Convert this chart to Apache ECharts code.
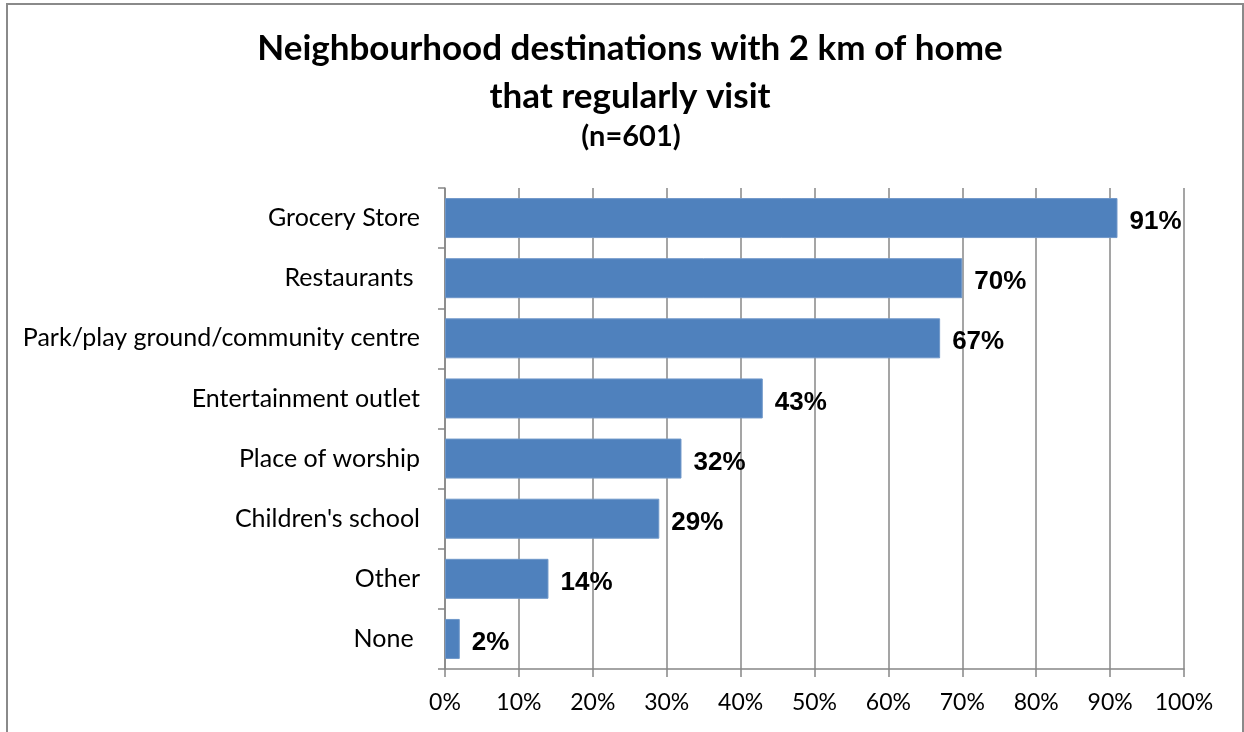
<!DOCTYPE html>
<html>
<head>
<meta charset="utf-8">
<script src="https://cdn.jsdelivr.net/npm/echarts@6/dist/echarts.min.js"></script>
<style>
  html, body { margin: 0; padding: 0; background: #fff; }
  #chart { width: 1244px; height: 732px; }
</style>
</head>
<body>
<div id="chart"></div>
<script>
// Destinations within 2 km of home that respondents visit regularly (n=601)
const categories = [
  'Grocery Store',
  'Restaurants ',
  'Park/play ground/community centre',
  'Entertainment outlet',
  'Place of worship',
  "Children's school",
  'Other',
  'None '
];
const shares = [91, 70, 67, 43, 32, 29, 14, 2];
const xTicks = [0, 10, 20, 30, 40, 50, 60, 70, 80, 90, 100];

const labelFont = 'Lato, "Open Sans", sans-serif';
const gridGray = '#878787';

const chart = echarts.init(document.getElementById('chart'));
chart.setOption({
  backgroundColor: '#ffffff',
  animation: false,
  title: [
    {
      text: 'Neighbourhood destinations with 2 km of home\nthat regularly visit',
      left: 625,
      top: 20,
      textAlign: 'center',
      textStyle: {
        fontFamily: labelFont,
        fontWeight: 'bold',
        fontSize: 35,
        lineHeight: 48,
        color: '#000'
      }
    },
    {
      text: '(n=601)',
      left: 626,
      top: 117,
      textAlign: 'center',
      textStyle: {
        fontFamily: labelFont,
        fontWeight: 'bold',
        fontSize: 29,
        color: '#000'
      }
    }
  ],
  graphic: [
    {
      type: 'rect',
      shape: { x: 7, y: 4, width: 1236, height: 760 },
      style: { fill: 'none', stroke: '#8a8a8a', lineWidth: 2 },
      silent: true
    }
  ],
  grid: { left: 445, right: 60, top: 188, bottom: 63 },
  xAxis: {
    type: 'value',
    min: xTicks[0],
    max: xTicks[xTicks.length - 1],
    interval: 10,
    axisLine: { show: true, lineStyle: { color: gridGray, width: 1.5 } },
    axisTick: { show: true, length: 8, lineStyle: { color: gridGray, width: 1.5 } },
    splitLine: { show: true, lineStyle: { color: gridGray, width: 1.5 } },
    axisLabel: {
      formatter: v => v + '%',
      margin: 22,
      fontFamily: labelFont,
      fontSize: 23,
      color: '#000'
    }
  },
  yAxis: {
    type: 'category',
    data: categories,
    inverse: true,
    axisLine: { show: true, lineStyle: { color: gridGray, width: 1.5 } },
    axisTick: { show: true, length: 7, lineStyle: { color: gridGray, width: 1.5 } },
    axisLabel: {
      margin: 25,
      fontFamily: labelFont,
      fontSize: 25,
      color: '#000'
    },
    splitLine: { show: false }
  },
  series: [
    {
      type: 'bar',
      data: shares,
      barWidth: 40,
      itemStyle: { color: '#4f81bd', borderColor: '#6f97c9', borderWidth: 1 },
      label: {
        show: true,
        position: 'right',
        distance: 12,
        offset: [0, 4],
        formatter: p => p.value + '%',
        fontFamily: '"Liberation Sans", Arial, sans-serif',
        fontWeight: 'bold',
        fontSize: 26,
        color: '#000'
      }
    }
  ]
});
</script>
</body>
</html>
